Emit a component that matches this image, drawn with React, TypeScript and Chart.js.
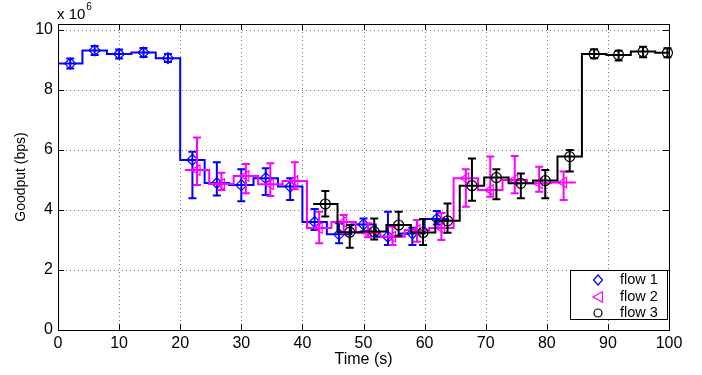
import React, { useEffect, useRef } from 'react';
import { Chart, registerables } from 'chart.js';

Chart.register(...registerables);

// ---------------- data (values in units of 1e6 bps) ----------------
const xTicks = [0, 10, 20, 30, 40, 50, 60, 70, 80, 90, 100];
const yTicks = [0, 2, 4, 6, 8, 10];
const binWidth = 4;

const flow1Time = [2, 6, 10, 14, 18, 22, 26, 30, 34, 38, 42, 46, 50, 54, 58, 62];
const flow1Mean = [8.88, 9.32, 9.2, 9.25, 9.06, 5.67, 4.9, 4.83, 5.06, 4.78, 3.6, 3.19, 3.52, 3.11, 3.22, 3.7];
const flow1High = [9.05, 9.47, 9.35, 9.4, 9.2, 5.94, 5.59, 5.36, 5.39, 5.06, 4.03, 3.56, 3.72, 3.94, 3.41, 3.97];
const flow1Low = [8.72, 9.17, 9.05, 9.1, 8.93, 4.39, 4.48, 4.29, 4.5, 4.33, 3.33, 2.89, 3.28, 2.83, 2.83, 3.52];

const flow2Time = [22.75, 26.75, 30.75, 34.75, 38.75, 42.75, 46.75, 50.75, 54.75, 58.75, 62.75, 66.75, 70.75, 74.75, 78.75, 82.75];
const flow2Mean = [5.33, 4.87, 5.13, 4.86, 4.97, 3.4, 3.6, 3.24, 3.11, 3.33, 3.4, 5.06, 4.67, 5.0, 4.89, 4.92];
const flow2High = [6.42, 5.24, 5.53, 5.56, 5.59, 3.94, 3.83, 3.56, 3.44, 3.67, 3.9, 5.36, 5.78, 5.8, 5.44, 5.28];
const flow2Low = [4.83, 4.67, 4.56, 4.47, 4.69, 2.89, 3.22, 3.09, 2.83, 2.94, 3.0, 4.11, 4.44, 4.56, 4.61, 4.33];

const flow3Time = [43.75, 47.75, 51.75, 55.75, 59.75, 63.75, 67.75, 71.75, 75.75, 79.75, 83.75, 87.75, 91.75, 95.75, 99.75];
const flow3Mean = [4.2, 3.26, 3.28, 3.5, 3.25, 3.64, 4.81, 5.08, 4.89, 4.98, 5.78, 9.2, 9.17, 9.28, 9.24];
const flow3High = [4.63, 3.5, 3.72, 3.94, 3.7, 4.22, 5.72, 5.36, 5.22, 5.33, 6.0, 9.36, 9.31, 9.44, 9.39];
const flow3Low = [3.78, 2.74, 3.02, 3.14, 2.83, 3.24, 4.31, 4.36, 4.39, 4.39, 5.28, 9.06, 8.98, 9.09, 9.09];

const flowLabels = ['flow 1', 'flow 2', 'flow 3'];
const flowColors = ['#0000ff', '#ff00ff', '#000000'];

const FONT = '"Liberation Sans", Arial, Helvetica, sans-serif';

type Flow = {
  label: string;
  color: string;
  time: number[];
  mean: number[];
  high: number[];
  low: number[];
  pointStyle: any;
  radius: number;
  rotation: number;
};

const flows: Flow[] = [
  { label: flowLabels[0], color: flowColors[0], time: flow1Time, mean: flow1Mean, high: flow1High, low: flow1Low, pointStyle: 'rectRot', radius: 5.5, rotation: 0 },
  { label: flowLabels[1], color: flowColors[1], time: flow2Time, mean: flow2Mean, high: flow2High, low: flow2Low, pointStyle: 'triangle', radius: 6, rotation: -90 },
  { label: flowLabels[2], color: flowColors[2], time: flow3Time, mean: flow3Mean, high: flow3High, low: flow3Low, pointStyle: 'circle', radius: 5, rotation: 0 },
];

function stepPoints(t: number[], v: number[]) {
  const pts = t.map((x, i) => ({ x: x - binWidth / 2, y: v[i] }));
  pts.push({ x: t[t.length - 1] + binWidth / 2, y: v[v.length - 1] });
  return pts;
}

// ---------------- plugins ----------------
const gridPlugin = {
  id: 'matlabGrid',
  beforeDatasetsDraw(chart: any) {
    const { ctx, chartArea: a, scales } = chart;
    ctx.save();
    ctx.strokeStyle = 'rgba(0,0,0,0.55)';
    ctx.lineWidth = 1;
    ctx.setLineDash([1, 3]);
    xTicks.forEach((v) => {
      const px = Math.round(scales.x.getPixelForValue(v)) + 0.5;
      if (px <= a.left + 1 || px >= a.right - 1) return;
      ctx.beginPath();
      ctx.moveTo(px, a.top);
      ctx.lineTo(px, a.bottom);
      ctx.stroke();
    });
    yTicks.forEach((v) => {
      const py = Math.round(scales.y.getPixelForValue(v)) + 0.5;
      if (py <= a.top + 1 || py >= a.bottom - 1) return;
      ctx.beginPath();
      ctx.moveTo(a.left, py);
      ctx.lineTo(a.right, py);
      ctx.stroke();
    });
    ctx.restore();
  },
};

const markerDatasetFlow: Record<number, number> = { 1: 0, 3: 1, 5: 2 };

const errorBarPlugin = {
  id: 'errorBars',
  beforeDatasetDraw(chart: any, args: any) {
    const fi = markerDatasetFlow[args.index];
    if (fi === undefined) return;
    const f = flows[fi];
    const { ctx, scales } = chart;
    ctx.save();
    ctx.strokeStyle = f.color;
    ctx.lineWidth = 2;
    ctx.lineCap = 'butt';
    f.time.forEach((t, i) => {
      const px = scales.x.getPixelForValue(t);
      const yh = scales.y.getPixelForValue(f.high[i]);
      const yl = scales.y.getPixelForValue(f.low[i]);
      ctx.beginPath();
      ctx.moveTo(px, yh);
      ctx.lineTo(px, yl);
      ctx.moveTo(px - 4, yh);
      ctx.lineTo(px + 4, yh);
      ctx.moveTo(px - 4, yl);
      ctx.lineTo(px + 4, yl);
      ctx.stroke();
    });
    ctx.restore();
  },
};

const framePlugin = {
  id: 'matlabFrame',
  afterDatasetsDraw(chart: any) {
    const { ctx, chartArea: a, scales } = chart;
    ctx.save();
    ctx.strokeStyle = '#000';
    ctx.lineWidth = 1;
    ctx.setLineDash([]);
    ctx.strokeRect(Math.round(a.left) + 0.5, Math.round(a.top) + 0.5, Math.round(a.right - a.left), Math.round(a.bottom - a.top));
    const tl = 6;
    ctx.beginPath();
    xTicks.forEach((v) => {
      const px = Math.round(scales.x.getPixelForValue(v)) + 0.5;
      ctx.moveTo(px, a.bottom);
      ctx.lineTo(px, a.bottom - tl);
      ctx.moveTo(px, a.top);
      ctx.lineTo(px, a.top + tl);
    });
    yTicks.forEach((v) => {
      const py = Math.round(scales.y.getPixelForValue(v)) + 0.5;
      ctx.moveTo(a.left, py);
      ctx.lineTo(a.left + tl, py);
      ctx.moveTo(a.right, py);
      ctx.lineTo(a.right - tl, py);
    });
    ctx.stroke();
    ctx.restore();
  },
  afterDraw(chart: any) {
    const { ctx, chartArea: a } = chart;
    ctx.save();
    // exponent label
    ctx.fillStyle = '#000';
    ctx.textBaseline = 'alphabetic';
    ctx.textAlign = 'left';
    ctx.font = `15px ${FONT}`;
    const base = 'x 10';
    ctx.fillText(base, a.left - 1, 19);
    const w = ctx.measureText(base).width;
    ctx.font = `10px ${FONT}`;
    ctx.fillText('6', a.left - 1 + w + 1, 10);

    // legend
    const bx = 570.5, by = 270.5, bw = 97, bh = 49;
    ctx.fillStyle = '#fff';
    ctx.fillRect(bx, by, bw, bh);
    ctx.strokeStyle = '#000';
    ctx.lineWidth = 1;
    ctx.strokeRect(bx, by, bw, bh);
    const rows = [280, 297, 313];
    flows.forEach((f, i) => {
      const mx = 598, my = rows[i];
      ctx.strokeStyle = f.color;
      ctx.lineWidth = 1.2;
      ctx.beginPath();
      if (i === 0) {
        ctx.moveTo(mx, my - 5);
        ctx.lineTo(mx + 4.5, my);
        ctx.lineTo(mx, my + 5);
        ctx.lineTo(mx - 4.5, my);
        ctx.closePath();
      } else if (i === 1) {
        ctx.moveTo(mx - 5, my);
        ctx.lineTo(mx + 4.5, my - 5.3);
        ctx.lineTo(mx + 4.5, my + 5.3);
        ctx.closePath();
      } else {
        ctx.arc(mx, my, 4, 0, Math.PI * 2);
      }
      ctx.stroke();
      ctx.fillStyle = '#000';
      ctx.font = `14.5px ${FONT}`;
      ctx.textBaseline = 'middle';
      ctx.fillText(f.label, 620, my);
    });
    ctx.restore();
  },
};

// ---------------- component ----------------
export default function App() {
  const canvasRef = useRef<HTMLCanvasElement | null>(null);

  useEffect(() => {
    if (!canvasRef.current) return;
    const datasets: any[] = [];
    flows.forEach((f, k) => {
      const base = (2 - k) * 2;
      datasets.push({
        type: 'line',
        label: f.label + ' steps',
        data: stepPoints(f.time, f.mean),
        stepped: 'before',
        borderColor: f.color,
        borderWidth: 2,
        pointRadius: 0,
        fill: false,
        order: base + 1,
      });
      datasets.push({
        type: 'line',
        label: f.label,
        data: f.time.map((x, i) => ({ x, y: f.mean[i] })),
        showLine: false,
        pointStyle: f.pointStyle,
        pointRadius: f.radius,
        pointRotation: f.rotation,
        pointBorderColor: f.color,
        pointBackgroundColor: 'rgba(0,0,0,0)',
        pointBorderWidth: 1.2,
        clip: false,
        order: base,
      });
    });

    const chart = new Chart(canvasRef.current, {
      type: 'line',
      data: { datasets },
      options: {
        animation: false,
        responsive: false,
        devicePixelRatio: 1,
        layout: { padding: { top: 24, right: 33, left: 0, bottom: 0 } },
        plugins: {
          legend: { display: false },
          tooltip: { enabled: false },
        },
        scales: {
          x: {
            type: 'linear',
            min: 0,
            max: 100,
            afterBuildTicks: (s: any) => {
              s.ticks = xTicks.map((value) => ({ value }));
            },
            afterFit: (s: any) => {
              s.height = 45;
            },
            grid: { display: false, drawTicks: false },
            border: { display: false },
            ticks: { color: '#000', font: { family: FONT, size: 16 }, padding: 4, maxRotation: 0, autoSkip: false },
            title: { display: true, text: 'Time (s)', color: '#000', font: { family: FONT, size: 16 }, padding: { top: 0, bottom: 6 } },
          },
          y: {
            type: 'linear',
            min: 0,
            max: 10.2,
            afterBuildTicks: (s: any) => {
              s.ticks = yTicks.map((value) => ({ value }));
            },
            afterFit: (s: any) => {
              s.width = 58;
            },
            grid: { display: false, drawTicks: false },
            border: { display: false },
            ticks: { color: '#000', font: { family: FONT, size: 16 }, padding: 5 },
            title: { display: true, text: 'Goodput (bps)', color: '#000', font: { family: FONT, size: 14 }, padding: { top: 13, bottom: 0 } },
          },
        },
      } as any,
      plugins: [gridPlugin, errorBarPlugin, framePlugin],
    });
    return () => chart.destroy();
  }, []);

  return (
    <div style={{ position: 'fixed', left: 0, top: 0, width: 702, height: 375, background: '#fff' }}>
      <canvas ref={canvasRef} width={702} height={375} style={{ display: 'block' }} />
    </div>
  );
}
